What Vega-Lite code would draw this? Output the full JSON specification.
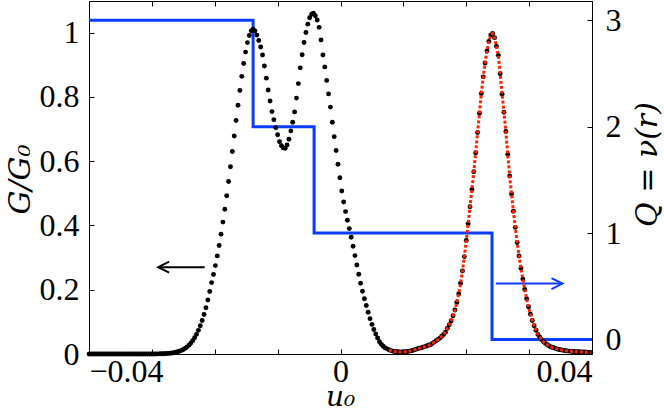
{
  "$schema": "https://vega.github.io/schema/vega-lite/v6.json",
  "width": 503,
  "height": 353,
  "autosize": {"type": "none"},
  "padding": {"left": 89, "top": 1, "right": 72, "bottom": 57},
  "background": "white",
  "config": {
    "view": {"stroke": "black", "strokeWidth": 1},
    "axis": {
      "labelFont": "Liberation Serif",
      "titleFont": "DejaVu Serif",
      "labelFontSize": 32,
      "titleFontSize": 30,
      "labelColor": "black",
      "titleColor": "black",
      "titleFontWeight": "normal",
      "grid": false,
      "domain": false,
      "tickColor": "black",
      "tickSize": -5,
      "tickWidth": 1
    }
  },
  "datasets": {
    "gdata": [
      {"x": -0.0400, "g": 0}, {"x": -0.0397, "g": 0}, {"x": -0.0394, "g": 0}, {"x": -0.0391, "g": 0}, {"x": -0.0388, "g": 0},
      {"x": -0.0385, "g": 0}, {"x": -0.0382, "g": 0}, {"x": -0.0379, "g": 0}, {"x": -0.0376, "g": 0}, {"x": -0.0373, "g": 0},
      {"x": -0.0370, "g": 0}, {"x": -0.0367, "g": 0}, {"x": -0.0364, "g": 0}, {"x": -0.0361, "g": 0}, {"x": -0.0358, "g": 0},
      {"x": -0.0355, "g": 0}, {"x": -0.0352, "g": 0}, {"x": -0.0349, "g": 0}, {"x": -0.0346, "g": 0}, {"x": -0.0343, "g": 0},
      {"x": -0.0340, "g": 0}, {"x": -0.0337, "g": 0}, {"x": -0.0334, "g": 0}, {"x": -0.0331, "g": 0}, {"x": -0.0328, "g": 0},
      {"x": -0.0325, "g": 0}, {"x": -0.0322, "g": 0}, {"x": -0.0319, "g": 0}, {"x": -0.0316, "g": 0}, {"x": -0.0313, "g": 0},
      {"x": -0.0310, "g": 0}, {"x": -0.0307, "g": 0}, {"x": -0.0304, "g": 0}, {"x": -0.0301, "g": 0}, {"x": -0.0298, "g": 0},
      {"x": -0.0295, "g": 0}, {"x": -0.0292, "g": 0.0003}, {"x": -0.0289, "g": 0.0004}, {"x": -0.0286, "g": 0.0006}, {"x": -0.0283, "g": 0.0008},
      {"x": -0.0280, "g": 0.0010}, {"x": -0.0277, "g": 0.0014}, {"x": -0.0274, "g": 0.0018}, {"x": -0.0271, "g": 0.0024}, {"x": -0.0268, "g": 0.0032},
      {"x": -0.0265, "g": 0.0041}, {"x": -0.0262, "g": 0.0054}, {"x": -0.0259, "g": 0.0069}, {"x": -0.0256, "g": 0.0088}, {"x": -0.0253, "g": 0.0112},
      {"x": -0.0250, "g": 0.0142}, {"x": -0.0247, "g": 0.0178}, {"x": -0.0244, "g": 0.0222}, {"x": -0.0241, "g": 0.0275}, {"x": -0.0238, "g": 0.0339},
      {"x": -0.0235, "g": 0.0415}, {"x": -0.0232, "g": 0.0505}, {"x": -0.0229, "g": 0.0611}, {"x": -0.0226, "g": 0.0735}, {"x": -0.0223, "g": 0.0878},
      {"x": -0.0220, "g": 0.1041}, {"x": -0.0217, "g": 0.1228}, {"x": -0.0214, "g": 0.1440}, {"x": -0.0211, "g": 0.1678}, {"x": -0.0208, "g": 0.1942},
      {"x": -0.0205, "g": 0.2221}, {"x": -0.0202, "g": 0.2473}, {"x": -0.0199, "g": 0.2750}, {"x": -0.0196, "g": 0.3051}, {"x": -0.0193, "g": 0.3377},
      {"x": -0.0190, "g": 0.3728}, {"x": -0.0187, "g": 0.4103}, {"x": -0.0184, "g": 0.4502}, {"x": -0.0181, "g": 0.4924}, {"x": -0.0178, "g": 0.5367},
      {"x": -0.0175, "g": 0.5826}, {"x": -0.0172, "g": 0.6299}, {"x": -0.0169, "g": 0.6780}, {"x": -0.0166, "g": 0.7262}, {"x": -0.0163, "g": 0.7738},
      {"x": -0.0160, "g": 0.8199}, {"x": -0.0157, "g": 0.8636}, {"x": -0.0154, "g": 0.9036}, {"x": -0.0151, "g": 0.9391}, {"x": -0.0148, "g": 0.9686},
      {"x": -0.0145, "g": 0.9909}, {"x": -0.0142, "g": 1.0051}, {"x": -0.0139, "g": 1.010}, {"x": -0.0136, "g": 1.005}, {"x": -0.0133, "g": 0.992},
      {"x": -0.0130, "g": 0.975}, {"x": -0.0127, "g": 0.955}, {"x": -0.0124, "g": 0.930}, {"x": -0.0121, "g": 0.896}, {"x": -0.0118, "g": 0.858},
      {"x": -0.0115, "g": 0.821}, {"x": -0.0112, "g": 0.787}, {"x": -0.0109, "g": 0.754}, {"x": -0.0106, "g": 0.729}, {"x": -0.0103, "g": 0.704},
      {"x": -0.0100, "g": 0.682}, {"x": -0.0097, "g": 0.660}, {"x": -0.0094, "g": 0.648}, {"x": -0.0091, "g": 0.641}, {"x": -0.0088, "g": 0.640},
      {"x": -0.0085, "g": 0.650}, {"x": -0.0082, "g": 0.668}, {"x": -0.0079, "g": 0.694}, {"x": -0.0076, "g": 0.721}, {"x": -0.0073, "g": 0.753},
      {"x": -0.0070, "g": 0.796}, {"x": -0.0067, "g": 0.841}, {"x": -0.0064, "g": 0.890}, {"x": -0.0061, "g": 0.931}, {"x": -0.0058, "g": 0.969},
      {"x": -0.0055, "g": 1.000}, {"x": -0.0052, "g": 1.026}, {"x": -0.0049, "g": 1.046}, {"x": -0.0046, "g": 1.057}, {"x": -0.0043, "g": 1.060},
      {"x": -0.0040, "g": 1.052}, {"x": -0.0037, "g": 1.039}, {"x": -0.0034, "g": 1.016}, {"x": -0.0031, "g": 0.977}, {"x": -0.0028, "g": 0.930},
      {"x": -0.0025, "g": 0.893}, {"x": -0.0022, "g": 0.851}, {"x": -0.0019, "g": 0.809}, {"x": -0.0016, "g": 0.768}, {"x": -0.0013, "g": 0.721},
      {"x": -0.0010, "g": 0.676}, {"x": -0.0007, "g": 0.633}, {"x": -0.0004, "g": 0.590}, {"x": -0.0001, "g": 0.548}, {"x": 0.0002, "g": 0.507},
      {"x": 0.0005, "g": 0.473}, {"x": 0.0008, "g": 0.443}, {"x": 0.0011, "g": 0.416}, {"x": 0.0014, "g": 0.390}, {"x": 0.0017, "g": 0.363},
      {"x": 0.0020, "g": 0.335}, {"x": 0.0023, "g": 0.306}, {"x": 0.0026, "g": 0.277}, {"x": 0.0029, "g": 0.248}, {"x": 0.0032, "g": 0.220},
      {"x": 0.0035, "g": 0.195}, {"x": 0.0038, "g": 0.172}, {"x": 0.0041, "g": 0.151}, {"x": 0.0044, "g": 0.130}, {"x": 0.0047, "g": 0.110},
      {"x": 0.0050, "g": 0.092}, {"x": 0.0053, "g": 0.076}, {"x": 0.0056, "g": 0.062}, {"x": 0.0059, "g": 0.050}, {"x": 0.0062, "g": 0.038},
      {"x": 0.0065, "g": 0.030}, {"x": 0.0068, "g": 0.024}, {"x": 0.0071, "g": 0.019}, {"x": 0.0074, "g": 0.016}, {"x": 0.0077, "g": 0.013},
      {"x": 0.0080, "g": 0.011}, {"x": 0.0083, "g": 0.009}, {"x": 0.0086, "g": 0.008}, {"x": 0.0089, "g": 0.007}, {"x": 0.0092, "g": 0.007},
      {"x": 0.0095, "g": 0.006}, {"x": 0.0098, "g": 0.006}, {"x": 0.0101, "g": 0.007}, {"x": 0.0104, "g": 0.007}, {"x": 0.0107, "g": 0.008},
      {"x": 0.0110, "g": 0.009}, {"x": 0.0113, "g": 0.010}, {"x": 0.0116, "g": 0.012}, {"x": 0.0119, "g": 0.014}, {"x": 0.0122, "g": 0.016},
      {"x": 0.0125, "g": 0.018}, {"x": 0.0128, "g": 0.019}, {"x": 0.0131, "g": 0.021}, {"x": 0.0134, "g": 0.023}, {"x": 0.0137, "g": 0.025},
      {"x": 0.0140, "g": 0.027}, {"x": 0.0143, "g": 0.029}, {"x": 0.0146, "g": 0.033}, {"x": 0.0149, "g": 0.037}, {"x": 0.0152, "g": 0.041},
      {"x": 0.0155, "g": 0.045}, {"x": 0.0158, "g": 0.049}, {"x": 0.0161, "g": 0.055}, {"x": 0.0164, "g": 0.061}, {"x": 0.0167, "g": 0.068},
      {"x": 0.0170, "g": 0.080}, {"x": 0.0173, "g": 0.091}, {"x": 0.0176, "g": 0.103}, {"x": 0.0179, "g": 0.119}, {"x": 0.0182, "g": 0.137},
      {"x": 0.0185, "g": 0.160}, {"x": 0.0188, "g": 0.187}, {"x": 0.0191, "g": 0.220}, {"x": 0.0194, "g": 0.258}, {"x": 0.0197, "g": 0.303},
      {"x": 0.0200, "g": 0.353}, {"x": 0.0203, "g": 0.405}, {"x": 0.0206, "g": 0.458}, {"x": 0.0209, "g": 0.512}, {"x": 0.0212, "g": 0.567},
      {"x": 0.0215, "g": 0.626}, {"x": 0.0218, "g": 0.689}, {"x": 0.0221, "g": 0.749}, {"x": 0.0224, "g": 0.810}, {"x": 0.0227, "g": 0.862},
      {"x": 0.0230, "g": 0.905}, {"x": 0.0233, "g": 0.943}, {"x": 0.0236, "g": 0.972}, {"x": 0.0239, "g": 0.992}, {"x": 0.0242, "g": 0.997},
      {"x": 0.0245, "g": 0.984}, {"x": 0.0248, "g": 0.957}, {"x": 0.0251, "g": 0.929}, {"x": 0.0254, "g": 0.872}, {"x": 0.0257, "g": 0.808},
      {"x": 0.0260, "g": 0.752}, {"x": 0.0263, "g": 0.692}, {"x": 0.0266, "g": 0.621}, {"x": 0.0269, "g": 0.554}, {"x": 0.0272, "g": 0.498},
      {"x": 0.0275, "g": 0.444}, {"x": 0.0278, "g": 0.394}, {"x": 0.0281, "g": 0.347}, {"x": 0.0284, "g": 0.305}, {"x": 0.0287, "g": 0.267},
      {"x": 0.0290, "g": 0.233}, {"x": 0.0293, "g": 0.201}, {"x": 0.0296, "g": 0.172}, {"x": 0.0299, "g": 0.147}, {"x": 0.0302, "g": 0.124},
      {"x": 0.0305, "g": 0.104}, {"x": 0.0308, "g": 0.088}, {"x": 0.0311, "g": 0.074}, {"x": 0.0314, "g": 0.061}, {"x": 0.0317, "g": 0.052},
      {"x": 0.0320, "g": 0.044}, {"x": 0.0323, "g": 0.038}, {"x": 0.0326, "g": 0.033}, {"x": 0.0329, "g": 0.029}, {"x": 0.0332, "g": 0.025},
      {"x": 0.0335, "g": 0.022}, {"x": 0.0338, "g": 0.020}, {"x": 0.0341, "g": 0.018}, {"x": 0.0344, "g": 0.016}, {"x": 0.0347, "g": 0.014},
      {"x": 0.0350, "g": 0.013}, {"x": 0.0353, "g": 0.012}, {"x": 0.0356, "g": 0.011}, {"x": 0.0359, "g": 0.010}, {"x": 0.0362, "g": 0.009},
      {"x": 0.0365, "g": 0.009}, {"x": 0.0368, "g": 0.008}, {"x": 0.0371, "g": 0.008}, {"x": 0.0374, "g": 0.007}, {"x": 0.0377, "g": 0.007},
      {"x": 0.0380, "g": 0.007}, {"x": 0.0383, "g": 0.006}, {"x": 0.0386, "g": 0.006}, {"x": 0.0389, "g": 0.006}, {"x": 0.0392, "g": 0.005},
      {"x": 0.0395, "g": 0.005}, {"x": 0.0398, "g": 0.005}
    ],
    "qdata": [
      {"x": -0.0400, "q": 3}, {"x": -0.0139, "q": 3}, {"x": -0.0139, "q": 2}, {"x": -0.0042, "q": 2},
      {"x": -0.0042, "q": 1}, {"x": 0.0241, "q": 1}, {"x": 0.0241, "q": 0}, {"x": 0.0400, "q": 0}
    ],
    "leftArrow": [{"x": -0.0290, "x2": -0.0216, "g": 0.27}],
    "rightArrow": [{"x": 0.0247, "x2": 0.0353, "q": 0.526}]
  },
  "resolve": {"scale": {"y": "independent"}, "axis": {"x": "independent"}},
  "layer": [
    {
      "layer": [
        {
          "data": {"name": "qdata"},
          "mark": {"type": "line", "color": "#0a3cff", "strokeWidth": 3, "interpolate": "linear"},
          "encoding": {
            "x": {"field": "x", "type": "quantitative", "sort": null,
                  "scale": {"domain": [-0.04, 0.04], "nice": false, "zero": false},
                  "axis": {"orient": "top", "labels": false, "title": null, "values": [-0.04, -0.03, -0.02, -0.01, 0, 0.01, 0.02, 0.03, 0.04]}},
            "y": {"field": "q", "type": "quantitative",
                  "scale": {"domain": [-0.136, 3.181], "nice": false, "zero": false},
                  "axis": {"orient": "right", "values": [0, 1, 2, 3], "format": "~g", "title": "Q = ν(r)", "titleFontStyle": "italic",
                           "titleAngle": 270, "titleX": 55, "titleY": 163, "titleBaseline": "middle", "titleAlign": "center", "labelPadding": 18}},
            "order": {"field": "none"}
          }
        },
        {
          "data": {"name": "rightArrow"},
          "mark": {"type": "rule", "color": "#0a3cff", "strokeWidth": 2},
          "encoding": {
            "x": {"field": "x", "type": "quantitative"},
            "x2": {"field": "x2"},
            "y": {"field": "q", "type": "quantitative"}
          }
        },
        {
          "data": {"name": "rightArrow"},
          "mark": {"type": "point", "shape": "M-2,-1L0,0L-2,1", "filled": false, "color": "#0a3cff", "strokeWidth": 2, "size": 121, "opacity": 1},
          "encoding": {
            "x": {"field": "x2", "type": "quantitative"},
            "y": {"field": "q", "type": "quantitative"}
          }
        }
      ]
    },
    {
      "layer": [
        {
          "data": {"name": "gdata"},
          "mark": {"type": "circle", "color": "black", "size": 24, "opacity": 1},
          "encoding": {
            "x": {"field": "x", "type": "quantitative",
                  "scale": {"domain": [-0.04, 0.04], "nice": false, "zero": false},
                  "axis": {"orient": "bottom", "title": "u₀", "titleFontStyle": "italic", "titleFontSize": 28, "values": [-0.04, -0.03, -0.02, -0.01, 0, 0.01, 0.02, 0.03, 0.04],
                           "labelExpr": "datum.value < -0.035 ? '−0.04' : (abs(datum.value) < 0.001 ? '0' : (datum.value > 0.035 ? '0.04' : ''))",
                           "labelPadding": 7, "titleX": 251, "titleY": 43, "titleBaseline": "middle", "titleAlign": "center"}},
            "y": {"field": "g", "type": "quantitative",
                  "scale": {"domain": [0, 1.098], "nice": false, "zero": false},
                  "axis": {"orient": "left", "values": [0, 0.2, 0.4, 0.6, 0.8, 1], "format": "~g", "title": "G/G₀", "titleFontStyle": "italic",
                           "labelPadding": 15, "titleX": -69, "titleY": 178, "titleBaseline": "middle", "titleAlign": "center"}}
          }
        },
        {
          "data": {"name": "gdata"},
          "transform": [{"filter": "datum.x >= 0.0077"}],
          "mark": {"type": "line", "color": "#ff2200", "strokeWidth": 3, "strokeDash": [3, 2]},
          "encoding": {
            "x": {"field": "x", "type": "quantitative"},
            "y": {"field": "g", "type": "quantitative"}
          }
        },
        {
          "data": {"name": "leftArrow"},
          "mark": {"type": "rule", "color": "black", "strokeWidth": 2},
          "encoding": {
            "x": {"field": "x", "type": "quantitative"},
            "x2": {"field": "x2"},
            "y": {"field": "g", "type": "quantitative"}
          }
        },
        {
          "data": {"name": "leftArrow"},
          "mark": {"type": "point", "shape": "M2,-1L0,0L2,1", "filled": false, "color": "black", "strokeWidth": 2, "size": 121, "opacity": 1},
          "encoding": {
            "x": {"field": "x", "type": "quantitative"},
            "y": {"field": "g", "type": "quantitative"}
          }
        }
      ]
    }
  ]
}
